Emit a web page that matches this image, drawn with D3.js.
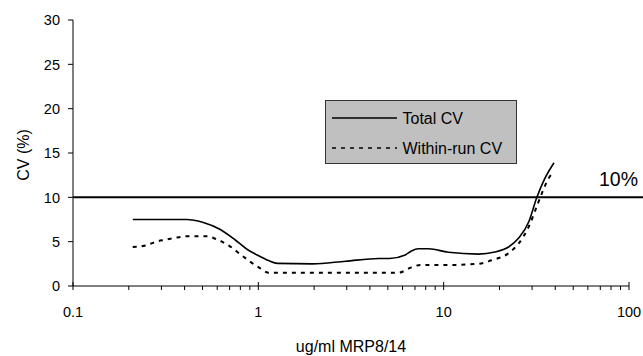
<!DOCTYPE html>
<html><head><meta charset="utf-8">
<script src="https://cdn.jsdelivr.net/npm/d3@7"></script>
<style>body{margin:0;background:#fff}svg{display:block}text{font-family:"Liberation Sans",Arial,sans-serif;fill:#000}</style>
</head><body><svg id="c" width="643" height="356"></svg>
<script>
const totalX = [0.21,0.41,0.50,0.62,0.74,0.88,0.97,1.1,1.27,1.96,2.96,4.47,5.1,6.2,6.7,7.3,8.3,10.6,15.4,18.9,22.4,25.4,28.8,31.7,35.1,39.4];
const totalCV = [7.5,7.5,7.2,6.4,5.3,4.06,3.57,3.0,2.55,2.5,2.8,3.1,3.1,3.5,3.95,4.2,4.2,3.8,3.6,3.83,4.4,5.4,7.25,9.9,12.1,13.9];
const withinX = [0.21,0.25,0.28,0.31,0.35,0.41,0.53,0.59,0.70,0.82,1.01,1.14,5.7,6.7,7.5,10.6,15.4,18.1,22.4,25.4,28.8,31.7,34.4,36.5,38.5];
const withinCV = [4.4,4.6,5.0,5.2,5.4,5.6,5.6,5.3,4.5,3.4,2.07,1.5,1.5,2.1,2.37,2.37,2.5,2.9,3.7,4.8,6.7,8.9,10.8,12.0,12.7];
const yTicks = [0,5,10,15,20,25,30];
const xMajor = [0.1,1,10,100];
const xMajorLabels = ["0.1","1","10","100"];
const threshold = 10;
const legendLabels = ["Total CV","Within-run CV"];

const svg = d3.select("#c");
const L=73,R=629,T=20,B=286;
const x = d3.scaleLog().domain([0.1,100]).range([L,R]);
const y = d3.scaleLinear().domain([0,30]).range([B,T]);

// y axis
svg.append("line").attr("x1",L).attr("x2",L).attr("y1",T).attr("y2",B).attr("stroke","#000");
yTicks.forEach(t=>{
  svg.append("line").attr("x1",L-5).attr("x2",L).attr("y1",y(t)).attr("y2",y(t)).attr("stroke","#000");
  svg.append("text").attr("x",L-13).attr("y",y(t)+5.2).attr("text-anchor","end").attr("font-size",14.5).text(t);
});
// x axis
svg.append("line").attr("x1",L).attr("x2",R).attr("y1",B).attr("y2",B).attr("stroke","#000");
const minor=[];
for(let d=0.1; d<100; d*=10){ for(let k=2;k<=9;k++) minor.push(+(d*k).toPrecision(3)); }
minor.forEach(m=>{
  svg.append("line").attr("x1",x(m)).attr("x2",x(m)).attr("y1",B).attr("y2",B+4).attr("stroke","#000");
});
xMajor.forEach((m,i)=>{
  svg.append("line").attr("x1",x(m)).attr("x2",x(m)).attr("y1",B-4).attr("y2",B+4).attr("stroke","#000");
  svg.append("text").attr("x",x(m)).attr("y",316.5).attr("text-anchor","middle").attr("font-size",14.5).text(xMajorLabels[i]);
});
svg.append("text").attr("x",(L+R)/2).attr("y",352).attr("text-anchor","middle").attr("font-size",16).text("ug/ml MRP8/14");
svg.append("text").attr("transform",`translate(23,${155}) rotate(-90)`).attr("dy","0.35em").attr("text-anchor","middle").attr("font-size",16).text("CV (%)");

// threshold
svg.append("line").attr("x1",L).attr("x2",643).attr("y1",y(threshold)).attr("y2",y(threshold)).attr("stroke","#000").attr("stroke-width",2);
svg.append("text").attr("x",638).attr("y",185.7).attr("text-anchor","end").attr("font-size",19.5).text("10%");

const line = d3.line().x(d=>x(d[0])).y(d=>y(d[1])).curve(d3.curveMonotoneX);
svg.append("path").attr("d",line(totalX.map((v,i)=>[v,totalCV[i]]))).attr("fill","none").attr("stroke","#000").attr("stroke-width",1.6);
svg.append("path").attr("d",line(withinX.map((v,i)=>[v,withinCV[i]]))).attr("fill","none").attr("stroke","#000").attr("stroke-width",2).attr("stroke-dasharray","4,5");

// legend
const lg = svg.append("g");
lg.append("rect").attr("x",325.5).attr("y",100.5).attr("width",191).attr("height",63).attr("fill","#c0c0c0").attr("stroke","#333");
lg.append("line").attr("x1",332).attr("x2",397).attr("y1",118).attr("y2",118).attr("stroke","#000").attr("stroke-width",1.3);
lg.append("line").attr("x1",332).attr("x2",397).attr("y1",148).attr("y2",148).attr("stroke","#000").attr("stroke-width",1.6).attr("stroke-dasharray","4,5");
lg.append("text").attr("x",402.5).attr("y",123.8).attr("font-size",16).text(legendLabels[0]);
lg.append("text").attr("x",402.5).attr("y",153.8).attr("font-size",16).text(legendLabels[1]);
</script></body></html>
